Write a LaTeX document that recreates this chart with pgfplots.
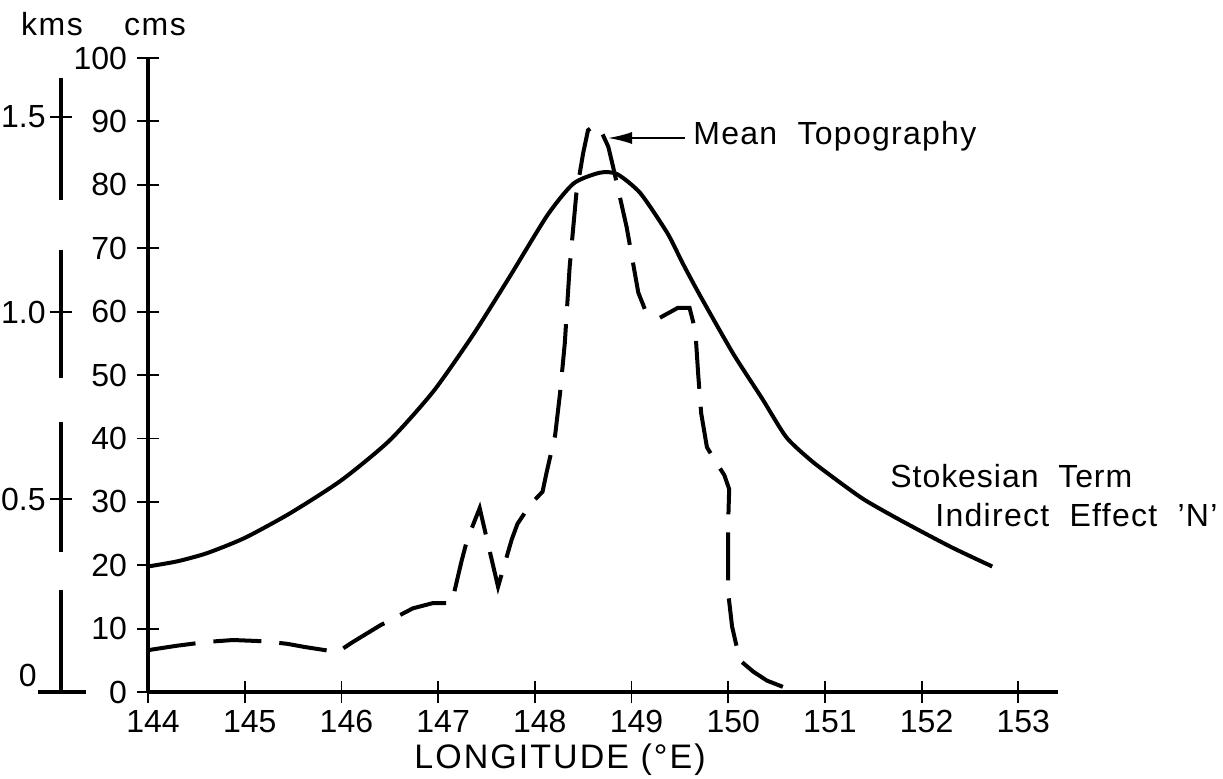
\documentclass[border=0pt]{standalone}
\usepackage{pgfplots}
\pgfplotsset{compat=1.18}
\usepackage{fontspec}
\setmainfont{Liberation Sans}
\usetikzlibrary{arrows.meta}

\pgfplotstableread{
lon v
144.00 19.8
144.30 20.6
144.61 21.9
145.00 24.3
145.47 28.2
146.00 33.4
146.50 39.7
146.95 47.4
147.36 56.3
147.74 65.5
148.13 75.2
148.40 80.2
148.67 81.9
148.85 81.7
149.09 78.7
149.37 72.4
149.53 67.6
149.71 62.5
150.05 53.4
150.35 46.3
150.60 40.2
150.85 36.6
151.08 33.9
151.40 30.4
151.78 27.1
152.30 22.9
152.73 19.8
}\stokes

\pgfplotstableread{
lon v
144.00 6.6
144.30 7.3
144.61 7.9
144.88 8.2
145.20 8.0
145.44 7.6
145.62 7.1
145.96 6.3
146.12 7.9
146.40 10.5
146.74 13.2
146.94 14.0
147.14 14.0
147.24 20.5
147.30 24.0
147.43 29.0
147.50 24.4
147.62 16.6
147.76 24.0
147.82 26.5
147.95 29.5
148.08 31.6
148.12 34.5
148.21 40.5
148.26 47.0
148.31 55.0
148.36 67.0
148.43 78.7
148.50 85.0
148.55 88.6
148.62 89.4
148.70 88.0
148.76 86.0
148.81 82.8
148.95 73.3
149.07 63.0
149.14 60.3
149.29 59.0
149.48 60.6
149.60 60.6
149.66 57.0
149.69 50.0
149.72 44.0
149.78 38.6
149.88 36.1
149.96 34.2
150.01 32.0
150.00 27.0
150.00 15.6
150.04 10.3
150.12 5.0
150.26 3.2
150.40 1.8
150.60 0.6
}\topo

\begin{document}
\begin{tikzpicture}[x=1pt,y=1pt]
\path[use as bounding box] (-74,-43) rectangle (537.5,346);
\begin{axis}[
  at={(0,0)}, anchor=south west, scale only axis,
  width=455pt, height=317pt,
  xmin=144, xmax=153.41, ymin=0, ymax=100,
  axis lines=left,
  axis line style={line width=1.8pt, -},
  xtick={144,...,153}, ytick={0,10,...,100},
  tick align=center, major tick length=11pt,
  tick style={line width=0.9pt, black},
  ticklabel style={font=\fontsize{16}{18}\selectfont},
  /pgf/number format/assume math mode=true,
  /pgf/number format/set thousands separator={},
  xticklabel style={anchor=north, xshift=2.5pt, yshift=0pt},
  yticklabel style={anchor=east, xshift=-1.5pt},
  clip=false,
]
\addplot[black, line width=2pt, smooth, tension=0.4] table[x=lon, y=v] {\stokes};
\addplot[black, line width=2pt, dash pattern=on 24pt off 9pt] table[x=lon, y=v] {\topo};
\end{axis}

% secondary kms scale
\draw[line width=1.8pt] (-43.5,307) -- (-43.5,246);
\draw[line width=1.8pt] (-43.5,221) -- (-43.5,157);
\draw[line width=1.8pt] (-43.5,135) -- (-43.5,70);
\draw[line width=1.8pt] (-43.5,51) -- (-43.5,0);
\draw[line width=1.8pt] (-55,0) -- (-31,0);
\draw[line width=0.9pt] (-49,287.5) -- (-38,287.5);
\draw[line width=0.9pt] (-49,190) -- (-38,190);
\draw[line width=0.9pt] (-49,96.5) -- (-38,96.5);
\begin{scope}[font=\fontsize{16}{18}\selectfont]
\node[anchor=east, inner sep=0pt] at (-51,287.5) {1.5};
\node[anchor=east, inner sep=0pt] at (-51,190) {1.0};
\node[anchor=east, inner sep=0pt] at (-51,96.5) {0.5};
\node[anchor=east, inner sep=0pt] at (-55.5,8.5) {0};
\node[anchor=base, inner sep=0pt, font=\fontsize{16}{18}\selectfont\addfontfeature{LetterSpace=5}] at (-48,328) {kms};
\node[anchor=base, inner sep=0pt, font=\fontsize{16}{18}\selectfont\addfontfeature{LetterSpace=5}] at (3.5,328) {cms};
\end{scope}

% annotations
\node[font=\fontsize{17}{20}\selectfont\addfontfeature{LetterSpace=6}, inner sep=0pt] at (206,-34) {LONGITUDE (°E)};
\node[anchor=base west, inner sep=0pt, font=\fontsize{16}{18}\selectfont\addfontfeature{LetterSpace=4}] at (272.5,273.5) {Mean\ \ Topography};
\draw[line width=0.9pt, -{Latex[length=12pt,width=6pt]}] (268.5,277) -- (230,277);
\node[anchor=base west, inner sep=0pt, font=\fontsize{16}{18}\selectfont\addfontfeature{LetterSpace=3}] at (371,102) {Stokesian\ \ Term};
\node[anchor=base west, inner sep=0pt, font=\fontsize{16}{18}\selectfont\addfontfeature{LetterSpace=4}] at (393.5,82.5) {Indirect\ \ Effect\ \ 'N'};
\end{tikzpicture}
\end{document}
